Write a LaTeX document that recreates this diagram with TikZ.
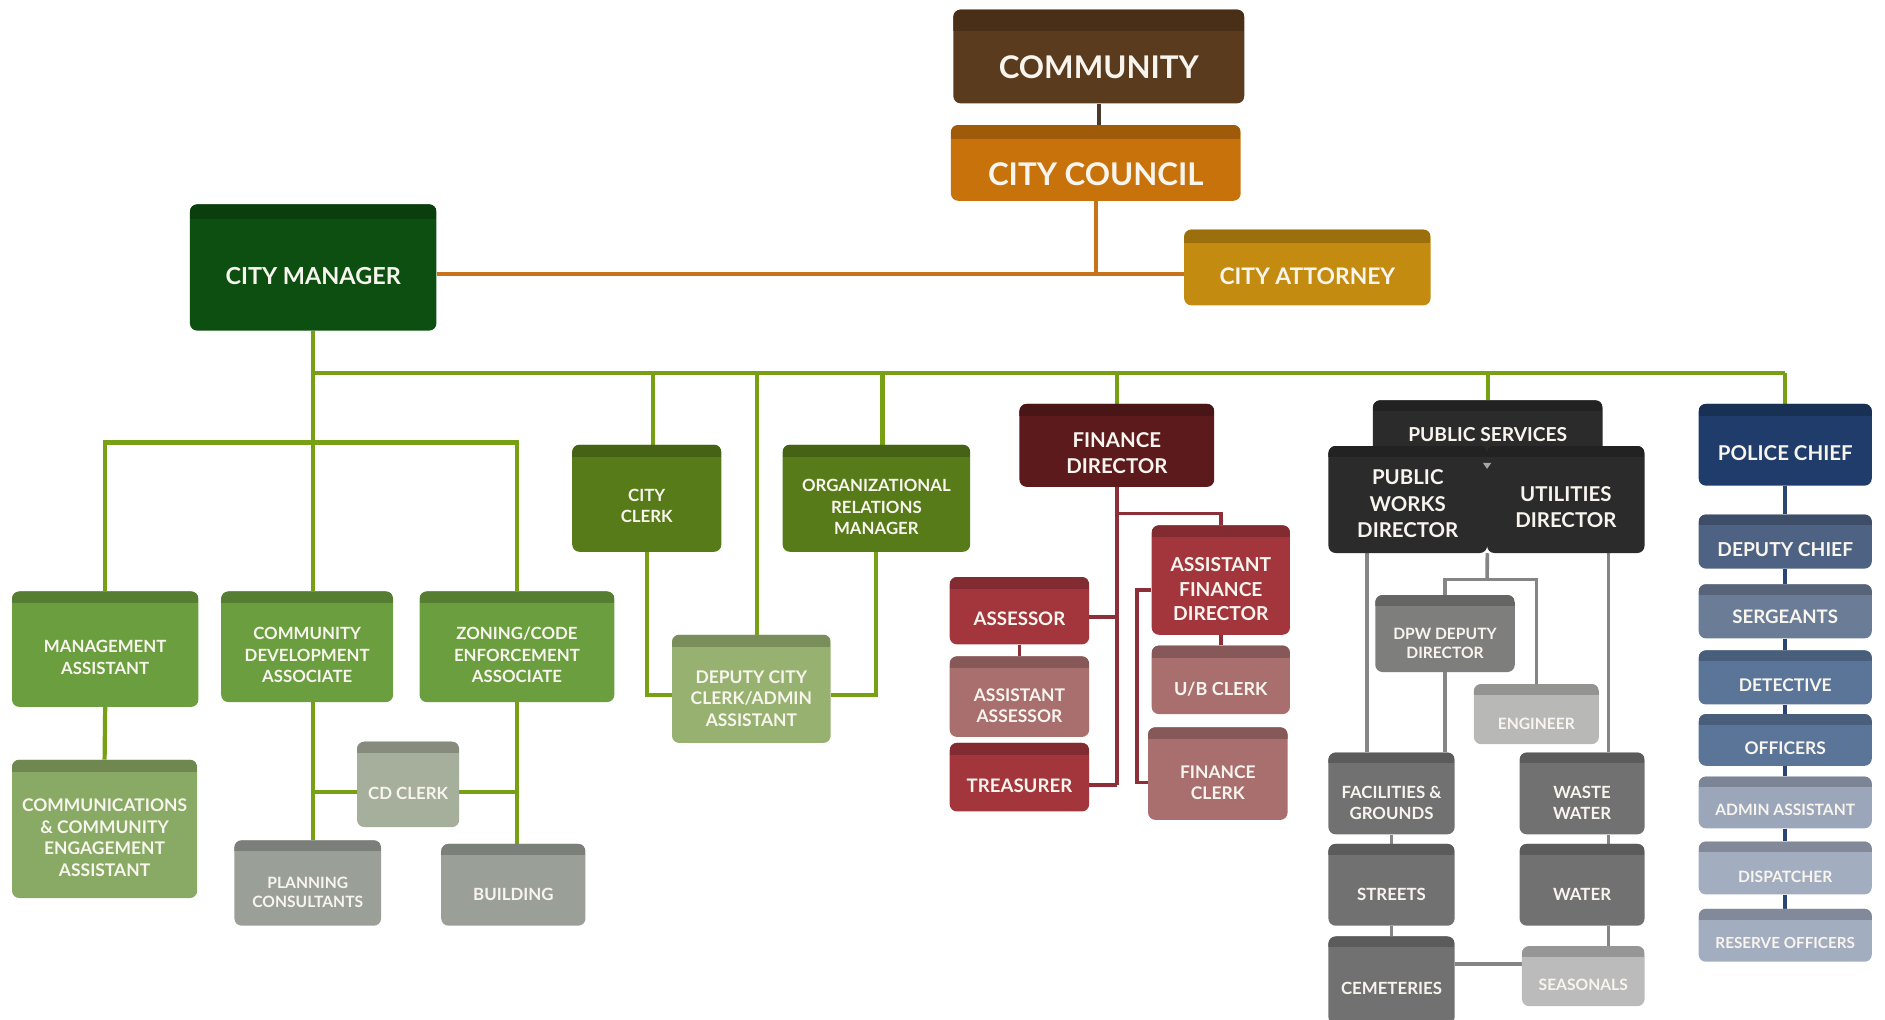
\documentclass[tikz,border=0pt]{standalone}
\usepackage{fontspec}
\setmainfont{Lato}
\usetikzlibrary{backgrounds}
\definecolor{tx}{HTML}{F8F5EE}
\definecolor{cCom}{HTML}{5B3B1E}
\definecolor{cCou}{HTML}{C8720C}
\definecolor{cAtt}{HTML}{C38B10}
\definecolor{cMgr}{HTML}{0C4F10}
\definecolor{cMid}{HTML}{6B9E3F}
\definecolor{cCmx}{HTML}{89AA64}
\definecolor{cDcc}{HTML}{97B270}
\definecolor{cClk}{HTML}{577B19}
\definecolor{cCdc}{HTML}{A6AE9C}
\definecolor{cPl}{HTML}{9A9F98}
\definecolor{cFd}{HTML}{5C1A1C}
\definecolor{cRed}{HTML}{A2363C}
\definecolor{cPnk}{HTML}{A96E6E}
\definecolor{cDk}{HTML}{2B2B2B}
\definecolor{cDpw}{HTML}{7E7E7C}
\definecolor{cEng}{HTML}{B8B8B6}
\definecolor{cGr}{HTML}{717171}
\definecolor{cSea}{HTML}{BBBBBB}
\definecolor{cPc}{HTML}{1F3C6A}
\definecolor{cDc}{HTML}{4E6283}
\definecolor{cSg}{HTML}{6B7C96}
\definecolor{cDt}{HTML}{5B7598}
\definecolor{cAd}{HTML}{9BA6BA}
\definecolor{cDp}{HTML}{A3ADC0}
\definecolor{lOr}{HTML}{C9711B}
\definecolor{lBr}{HTML}{4A3A2A}
\definecolor{lGr}{HTML}{77A014}
\definecolor{lMr}{HTML}{8C2F38}
\definecolor{lGy}{HTML}{858585}
\definecolor{lNv}{HTML}{2B4673}
\newcommand\fs[2]{\fontsize{#1}{#2}\selectfont\bfseries}
\newcommand\T[2][8]{\raisebox{-#1pt}[\height][\depth]{\begin{tabular}{@{}c@{}}#2\end{tabular}}}
\tikzset{
  ob/.style 2 args={fill=#1, rounded corners=6pt, inner sep=0pt, text=tx,
    path picture={\fill[#1!80!black, sharp corners] ([yshift=1pt]path picture bounding box.north west) rectangle ([yshift=-#2pt]path picture bounding box.north east);}},
  geo/.style n args={4}{at={({(#1+#3)/2},{(#2+#4)/2})}, minimum width={(#3-#1)*1pt}, minimum height={(#4-#2)*1pt}},
  orl/.style={draw=lOr, line width=3pt},
  brl/.style={draw=lBr, line width=3pt},
  grl/.style={draw=lGr, line width=3.5pt},
  mrl/.style={draw=lMr, line width=3pt},
  gyl/.style={draw=lGy, line width=3pt},
  nvl/.style={draw=lNv, line width=3pt},
}
\begin{document}
\begin{tikzpicture}[x=1pt,y=-1pt]
\useasboundingbox (0,0) rectangle (1568,848);
\clip (0,0) rectangle (1568,848);
% top
\node[ob={cCom}{18}, geo={793}{8}{1035}{86}, font=\fs{26}{30}] (com) {\T[12.4]{COMMUNITY}};
\node[ob={cCou}{12}, geo={791}{104}{1032}{167}, font=\fs{26}{30}] (cc) {\T[12.9]{CITY COUNCIL}};
\node[ob={cAtt}{11}, geo={985}{191}{1190}{254}, font=\fs{19}{23}] (ca) {\T[9.7]{CITY ATTORNEY}};
\node[ob={cMgr}{12}, geo={158}{170}{363}{275}, font=\fs{19.5}{23}] (cm) {\T[9.9]{CITY MANAGER}};
% left green
\node[ob={cMid}{10}, geo={10}{492}{165}{588}, font=\fs{14}{18}] (ma) {\T[8.4]{MANAGEMENT\\ASSISTANT}};
\node[ob={cMid}{10}, geo={184}{492}{327}{584}, font=\fs{14}{18}] (cda) {\T[8.4]{COMMUNITY\\DEVELOPMENT\\ASSOCIATE}};
\node[ob={cMid}{10}, geo={349}{492}{511}{584}, font=\fs{14}{18}] (zc) {\T[8.4]{ZONING/CODE\\ENFORCEMENT\\ASSOCIATE}};
\node[ob={cCmx}{10}, geo={10}{632}{164}{747}, font=\fs{14.5}{18}] (cmx) {\T[9.1]{COMMUNICATIONS\\\& COMMUNITY\\ENGAGEMENT\\ASSISTANT}};
\node[ob={cCdc}{9}, geo={297}{617}{382}{688}, font=\fs{14}{18}] (cdc) {\T[9]{CD CLERK}};
\node[ob={cPl}{9}, geo={195}{699}{317}{770}, font=\fs{13}{16}] (pl) {\T[9]{PLANNING\\CONSULTANTS}};
\node[ob={cPl}{9}, geo={367}{702}{487}{770}, font=\fs{14}{18}] (bld) {\T[9.4]{BUILDING}};
\node[ob={cClk}{10}, geo={476}{370}{600}{459}, font=\fs{14}{18}] (clk) {\T[7.9]{CITY\\CLERK}};
\node[ob={cClk}{10}, geo={651}{370}{807}{459}, font=\fs{14}{18}] (orm) {\T[8.9]{ORGANIZATIONAL\\RELATIONS\\MANAGER}};
\node[ob={cDcc}{10}, geo={559}{528}{691}{618}, font=\fs{14.5}{18}] (dcc) {\T[9.6]{DEPUTY CITY\\CLERK/ADMIN\\ASSISTANT}};
% finance
\node[ob={cFd}{10}, geo={848}{336}{1010}{405}, font=\fs{17}{22}] (fd) {\T[8.2]{FINANCE\\DIRECTOR}};
\node[ob={cRed}{10}, geo={958}{437}{1073}{528}, font=\fs{16}{20}] (afd) {\T[9.3]{ASSISTANT\\FINANCE\\DIRECTOR}};
\node[ob={cRed}{10}, geo={790}{480}{906}{536}, font=\fs{15.5}{19}] (as) {\T[8.8]{ASSESSOR}};
\node[ob={cPnk}{10}, geo={790}{546}{906}{613}, font=\fs{14.5}{18}] (aas) {\T[9.1]{ASSISTANT\\ASSESSOR}};
\node[ob={cRed}{10}, geo={790}{618}{906}{675}, font=\fs{15.5}{19}] (tr) {\T[9.3]{TREASURER}};
\node[ob={cPnk}{10}, geo={958}{537}{1073}{594}, font=\fs{15}{18}] (ub) {\T[9.3]{U/B CLERK}};
\node[ob={cPnk}{10}, geo={955}{605}{1071}{682}, font=\fs{14.5}{18}] (fc) {\T[9.1]{FINANCE\\CLERK}};
% public services
\node[ob={cDk}{9}, geo={1142}{333}{1333}{390}, font=\fs{16}{20}] (ps) {\T[1.8]{PUBLIC SERVICES}};
\node[ob={cDk}{9}, geo={1105}{371}{1237}{460}, font=\fs{17}{22}] (pwd) {\T[5.2]{PUBLIC\\WORKS\\DIRECTOR}};
\node[ob={cDk}{9}, geo={1237}{371}{1368}{460}, font=\fs{17}{22}] (ud) {\T[8.2]{UTILITIES\\DIRECTOR}};
\fill[gray!70] (1233.5,385) -- (1240.5,385) -- (1237,390) -- cycle;
\node[ob={cDpw}{9}, geo={1144}{495}{1260}{559}, font=\fs{13}{16}] (dpw) {\T[9.5]{DPW DEPUTY\\DIRECTOR}};
\node[ob={cEng}{9}, geo={1226}{569}{1330}{619}, font=\fs{13}{16}] (eng) {\T[9.5]{ENGINEER}};
\node[ob={cGr}{9}, geo={1105}{626}{1210}{694}, font=\fs{14}{17}] (fg) {\T[9.6]{FACILITIES \&\\GROUNDS}};
\node[ob={cGr}{9}, geo={1264}{626}{1368}{694}, font=\fs{14}{17}] (ww) {\T[9.6]{WASTE\\WATER}};
\node[ob={cGr}{9}, geo={1105}{702}{1210}{770}, font=\fs{14}{17}] (st) {\T[9.6]{STREETS}};
\node[ob={cGr}{9}, geo={1264}{702}{1368}{770}, font=\fs{14}{17}] (wt) {\T[9.6]{WATER}};
\node[ob={cGr}{9}, geo={1105}{779}{1210}{852}, font=\fs{14}{17}] (cem) {\T[8.1]{CEMETERIES}};
\node[ob={cSea}{9}, geo={1266}{787}{1368}{837}, font=\fs{13}{16}] (sea) {\T[8.5]{SEASONALS}};
% police
\node[ob={cPc}{10}, geo={1413}{336}{1557}{404}, font=\fs{17}{21}] (pc) {\T[8.9]{POLICE CHIEF}};
\node[ob={cDc}{9}, geo={1413}{428}{1557}{473}, font=\fs{16}{20}] (dc) {\T[8.3]{DEPUTY CHIEF}};
\node[ob={cSg}{9}, geo={1413}{486}{1557}{531}, font=\fs{15.5}{19}] (sg) {\T[6.3]{SERGEANTS}};
\node[ob={cDt}{9}, geo={1413}{541}{1557}{586}, font=\fs{14.5}{18}] (dt) {\T[8.1]{DETECTIVE}};
\node[ob={cDt}{9}, geo={1413}{594}{1557}{637}, font=\fs{14.5}{18}] (of) {\T[8.1]{OFFICERS}};
\node[ob={cAd}{9}, geo={1413}{646}{1557}{689}, font=\fs{13}{16}] (ad) {\T[8]{ADMIN ASSISTANT}};
\node[ob={cDp}{9}, geo={1413}{700}{1557}{744}, font=\fs{13}{16}] (dp) {\T[8.5]{DISPATCHER}};
\node[ob={cDp}{9}, geo={1413}{756}{1557}{800}, font=\fs{12.7}{16}] (ro) {\T[7.5]{RESERVE OFFICERS}};

\begin{pgfonlayer}{background}
\fill[white] (0,0) rectangle (1568,848);
% orange
\coordinate (oj) at (911,228);
\draw[brl] (com.south) -- (com.south |- cc.north);
\draw[orl] (cc.south) -- (cc.south |- oj);
\draw[orl] (cm.east |- oj) -- (ca.west |- oj);
% green
\coordinate (yb) at (0,310);
\coordinate (ys) at (0,368);
\draw[grl] (cm.south) -- (cm.south |- cda.north);
\draw[grl] (cm.south |- yb) -- (pc.north |- yb);
\draw[grl] ([xshift=5pt]clk.north) -- ([xshift=5pt]clk.north |- yb);
\draw[grl] ([xshift=5pt]dcc.north) -- ([xshift=5pt]dcc.north |- yb);
\draw[grl] ([xshift=5pt]orm.north) -- ([xshift=5pt]orm.north |- yb);
\draw[grl] (fd.north) -- (fd.north |- yb);
\draw[grl] (ps.north) -- (ps.north |- yb);
\draw[grl] (pc.north) -- (pc.north |- yb);
\draw[grl] (ma.north) |- (zc.north |- ys) -- (zc.north);
\draw[grl] (ma.south) -- (cmx.north);
\draw[grl] (cda.south -| cm.south) -- (pl.north -| cm.south);
\draw[grl] (zc.south) -- (zc.south |- bld.north);
\coordinate (ycd) at (0,659);
\draw[grl] (cm.south |- ycd) -- (cdc.west |- ycd);
\draw[grl] (cdc.east |- ycd) -- (zc.south |- ycd);
\coordinate (ydc) at (0,578);
\draw[grl] (clk.south) |- (dcc.west |- ydc);
\draw[grl] (orm.south) |- (dcc.east |- ydc);
% maroon
\coordinate (fx1) at (0,427);
\coordinate (ya) at (0,513);
\coordinate (yt) at (0,653);
\draw[mrl] (fd.south) -- (fd.south |- yt);
\draw[mrl] (fd.south |- fx1) -| (afd.north);
\draw[mrl] (as.east |- ya) -- (fd.south |- ya);
\draw[mrl] (tr.east |- yt) -- (fd.south |- yt);
\draw[mrl] (as.south) -- (aas.north);
\draw[mrl] (afd.south) -- (ub.north);
\coordinate (fk1) at (946,491);
\coordinate (fk2) at (946,651);
\draw[mrl] (afd.west |- fk1) -- (fk1) -- (fk2) -- (fc.west |- fk2);
% grey
\coordinate (gx1) at (1137,0);
\coordinate (gx2) at (1338,0);
\coordinate (gj) at (1237,482);
\coordinate (ysj) at (0,802);
\draw[gyl] (pwd.south -| gx1) -- (fg.north -| gx1);
\draw[gyl] (ud.south -| gx2) -- (ww.north -| gx2);
\draw[gyl] (ww.south -| gx2) -- (wt.north -| gx2);
\draw[gyl] (wt.south -| gx2) -- (sea.north -| gx2);
\draw[gyl] (pwd.south east) -- (gj);
\draw[gyl] (dpw.north) |- (gj) -| (eng.north);
\draw[gyl] (dpw.south) -- (dpw.south |- fg.north);
\draw[gyl] (fg.south) -- (st.north);
\draw[gyl] (st.south) -- (cem.north);
\draw[gyl] (cem.east |- ysj) -- (sea.west |- ysj);
% navy
\draw[nvl] (pc.south) -- (dc.north);
\draw[nvl] (dc.south) -- (sg.north);
\draw[nvl] (sg.south) -- (dt.north);
\draw[nvl] (dt.south) -- (of.north);
\draw[nvl] (of.south) -- (ad.north);
\draw[nvl] (ad.south) -- (dp.north);
\draw[nvl] (dp.south) -- (ro.north);
\end{pgfonlayer}
\end{tikzpicture}
\end{document}
